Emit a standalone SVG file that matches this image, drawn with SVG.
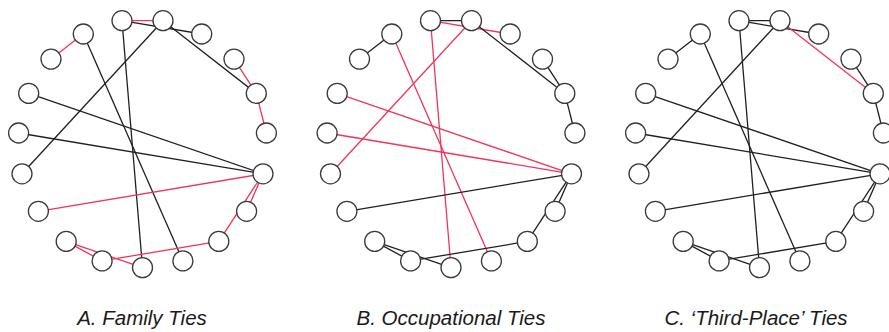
<svg xmlns="http://www.w3.org/2000/svg" width="889" height="332" viewBox="0 0 889 332">
<style>
.k{stroke:#231f20;stroke-width:1.3;fill:none}
.r{stroke:#f03558;stroke-width:1.3;fill:none}
.n circle{fill:#fff;stroke:#3a3a3a;stroke-width:1.3}
.lbl{font-family:"Liberation Sans",Arial,sans-serif;font-style:italic;font-size:20.5px;fill:#1a1a1a;text-anchor:middle}
</style>
<rect width="889" height="332" fill="#fff"/>

<!-- Panel A -->
<g id="panel-a">
<g id="a-connectors">
<line class="r" x1="83.3" y1="34" x2="51" y2="59.1"/>
<line class="r" x1="122" y1="20.7" x2="163" y2="20.7"/>
<line class="k" x1="122" y1="20.7" x2="201.7" y2="34"/>
<line class="k" x1="163" y1="20.7" x2="256.3" y2="93.4"/>
<line class="r" x1="234" y1="59.1" x2="256.3" y2="93.4"/>
<line class="r" x1="256.3" y1="93.4" x2="266.4" y2="133"/>
<line class="k" x1="163" y1="20.7" x2="22" y2="173.8"/>
<line class="k" x1="83.3" y1="34" x2="182.9" y2="260.9"/>
<line class="k" x1="122" y1="20.7" x2="142.5" y2="267.6"/>
<line class="k" x1="28.7" y1="93.4" x2="263" y2="173.8"/>
<line class="k" x1="18.6" y1="133" x2="263" y2="173.8"/>
<line class="r" x1="38.4" y1="211.3" x2="263" y2="173.8"/>
<line class="r" x1="263" y1="173.8" x2="246.6" y2="211.3"/>
<line class="r" x1="263" y1="173.8" x2="218.8" y2="241.4"/>
<line class="r" x1="218.8" y1="241.4" x2="102.1" y2="260.9"/>
<line class="r" x1="66.2" y1="241.4" x2="102.1" y2="260.9"/>
<line class="r" x1="66.2" y1="241.4" x2="142.5" y2="267.6"/>
</g>
<g id="a-n0" class="n"><circle cx="142.5" cy="267.6" r="10"/></g>
<g id="a-n1" class="n"><circle cx="182.9" cy="260.9" r="10"/></g>
<g id="a-n2" class="n"><circle cx="218.8" cy="241.4" r="10"/></g>
<g id="a-n3" class="n"><circle cx="246.6" cy="211.3" r="10"/></g>
<g id="a-n4" class="n"><circle cx="263" cy="173.8" r="10"/></g>
<g id="a-n5" class="n"><circle cx="266.4" cy="133" r="10"/></g>
<g id="a-n6" class="n"><circle cx="256.3" cy="93.4" r="10"/></g>
<g id="a-n7" class="n"><circle cx="234" cy="59.1" r="10"/></g>
<g id="a-n8" class="n"><circle cx="201.7" cy="34" r="10"/></g>
<g id="a-n9" class="n"><circle cx="163" cy="20.7" r="10"/></g>
<g id="a-n10" class="n"><circle cx="122" cy="20.7" r="10"/></g>
<g id="a-n11" class="n"><circle cx="83.3" cy="34" r="10"/></g>
<g id="a-n12" class="n"><circle cx="51" cy="59.1" r="10"/></g>
<g id="a-n13" class="n"><circle cx="28.7" cy="93.4" r="10"/></g>
<g id="a-n14" class="n"><circle cx="18.6" cy="133" r="10"/></g>
<g id="a-n15" class="n"><circle cx="22" cy="173.8" r="10"/></g>
<g id="a-n16" class="n"><circle cx="38.4" cy="211.3" r="10"/></g>
<g id="a-n17" class="n"><circle cx="66.2" cy="241.4" r="10"/></g>
<g id="a-n18" class="n"><circle cx="102.1" cy="260.9" r="10"/></g>
</g>

<!-- Panel B -->
<g id="panel-b" transform="translate(308.5,0)">
<g id="b-connectors">
<line class="k" x1="83.3" y1="34" x2="51" y2="59.1"/>
<line class="k" x1="122" y1="20.7" x2="163" y2="20.7"/>
<line class="r" x1="122" y1="20.7" x2="201.7" y2="34"/>
<line class="k" x1="163" y1="20.7" x2="256.3" y2="93.4"/>
<line class="k" x1="234" y1="59.1" x2="256.3" y2="93.4"/>
<line class="k" x1="256.3" y1="93.4" x2="266.4" y2="133"/>
<line class="r" x1="163" y1="20.7" x2="22" y2="173.8"/>
<line class="r" x1="83.3" y1="34" x2="182.9" y2="260.9"/>
<line class="r" x1="122" y1="20.7" x2="142.5" y2="267.6"/>
<line class="r" x1="28.7" y1="93.4" x2="263" y2="173.8"/>
<line class="r" x1="18.6" y1="133" x2="263" y2="173.8"/>
<line class="k" x1="38.4" y1="211.3" x2="263" y2="173.8"/>
<line class="k" x1="263" y1="173.8" x2="246.6" y2="211.3"/>
<line class="k" x1="263" y1="173.8" x2="218.8" y2="241.4"/>
<line class="k" x1="218.8" y1="241.4" x2="102.1" y2="260.9"/>
<line class="k" x1="66.2" y1="241.4" x2="102.1" y2="260.9"/>
<line class="k" x1="66.2" y1="241.4" x2="142.5" y2="267.6"/>
</g>
<g id="b-n0" class="n"><circle cx="142.5" cy="267.6" r="10"/></g>
<g id="b-n1" class="n"><circle cx="182.9" cy="260.9" r="10"/></g>
<g id="b-n2" class="n"><circle cx="218.8" cy="241.4" r="10"/></g>
<g id="b-n3" class="n"><circle cx="246.6" cy="211.3" r="10"/></g>
<g id="b-n4" class="n"><circle cx="263" cy="173.8" r="10"/></g>
<g id="b-n5" class="n"><circle cx="266.4" cy="133" r="10"/></g>
<g id="b-n6" class="n"><circle cx="256.3" cy="93.4" r="10"/></g>
<g id="b-n7" class="n"><circle cx="234" cy="59.1" r="10"/></g>
<g id="b-n8" class="n"><circle cx="201.7" cy="34" r="10"/></g>
<g id="b-n9" class="n"><circle cx="163" cy="20.7" r="10"/></g>
<g id="b-n10" class="n"><circle cx="122" cy="20.7" r="10"/></g>
<g id="b-n11" class="n"><circle cx="83.3" cy="34" r="10"/></g>
<g id="b-n12" class="n"><circle cx="51" cy="59.1" r="10"/></g>
<g id="b-n13" class="n"><circle cx="28.7" cy="93.4" r="10"/></g>
<g id="b-n14" class="n"><circle cx="18.6" cy="133" r="10"/></g>
<g id="b-n15" class="n"><circle cx="22" cy="173.8" r="10"/></g>
<g id="b-n16" class="n"><circle cx="38.4" cy="211.3" r="10"/></g>
<g id="b-n17" class="n"><circle cx="66.2" cy="241.4" r="10"/></g>
<g id="b-n18" class="n"><circle cx="102.1" cy="260.9" r="10"/></g>
</g>

<!-- Panel C -->
<g id="panel-c" transform="translate(617,0)">
<g id="c-connectors">
<line class="k" x1="83.3" y1="34" x2="51" y2="59.1"/>
<line class="k" x1="122" y1="20.7" x2="163" y2="20.7"/>
<line class="k" x1="122" y1="20.7" x2="201.7" y2="34"/>
<line class="r" x1="163" y1="20.7" x2="256.3" y2="93.4"/>
<line class="k" x1="234" y1="59.1" x2="256.3" y2="93.4"/>
<line class="k" x1="256.3" y1="93.4" x2="266.4" y2="133"/>
<line class="k" x1="163" y1="20.7" x2="22" y2="173.8"/>
<line class="k" x1="83.3" y1="34" x2="182.9" y2="260.9"/>
<line class="k" x1="122" y1="20.7" x2="142.5" y2="267.6"/>
<line class="k" x1="28.7" y1="93.4" x2="263" y2="173.8"/>
<line class="k" x1="18.6" y1="133" x2="263" y2="173.8"/>
<line class="k" x1="38.4" y1="211.3" x2="263" y2="173.8"/>
<line class="k" x1="263" y1="173.8" x2="246.6" y2="211.3"/>
<line class="k" x1="263" y1="173.8" x2="218.8" y2="241.4"/>
<line class="k" x1="218.8" y1="241.4" x2="102.1" y2="260.9"/>
<line class="k" x1="66.2" y1="241.4" x2="102.1" y2="260.9"/>
<line class="k" x1="66.2" y1="241.4" x2="142.5" y2="267.6"/>
</g>
<g id="c-n0" class="n"><circle cx="142.5" cy="267.6" r="10"/></g>
<g id="c-n1" class="n"><circle cx="182.9" cy="260.9" r="10"/></g>
<g id="c-n2" class="n"><circle cx="218.8" cy="241.4" r="10"/></g>
<g id="c-n3" class="n"><circle cx="246.6" cy="211.3" r="10"/></g>
<g id="c-n4" class="n"><circle cx="263" cy="173.8" r="10"/></g>
<g id="c-n5" class="n"><circle cx="266.4" cy="133" r="10"/></g>
<g id="c-n6" class="n"><circle cx="256.3" cy="93.4" r="10"/></g>
<g id="c-n7" class="n"><circle cx="234" cy="59.1" r="10"/></g>
<g id="c-n8" class="n"><circle cx="201.7" cy="34" r="10"/></g>
<g id="c-n9" class="n"><circle cx="163" cy="20.7" r="10"/></g>
<g id="c-n10" class="n"><circle cx="122" cy="20.7" r="10"/></g>
<g id="c-n11" class="n"><circle cx="83.3" cy="34" r="10"/></g>
<g id="c-n12" class="n"><circle cx="51" cy="59.1" r="10"/></g>
<g id="c-n13" class="n"><circle cx="28.7" cy="93.4" r="10"/></g>
<g id="c-n14" class="n"><circle cx="18.6" cy="133" r="10"/></g>
<g id="c-n15" class="n"><circle cx="22" cy="173.8" r="10"/></g>
<g id="c-n16" class="n"><circle cx="38.4" cy="211.3" r="10"/></g>
<g id="c-n17" class="n"><circle cx="66.2" cy="241.4" r="10"/></g>
<g id="c-n18" class="n"><circle cx="102.1" cy="260.9" r="10"/></g>
</g>

<g id="labels">
<text class="lbl" x="142" y="325">A. Family Ties</text>
<text class="lbl" x="451" y="325">B. Occupational Ties</text>
<text class="lbl" x="756" y="325">C. ‘Third-Place’ Ties</text>
</g>
</svg>
